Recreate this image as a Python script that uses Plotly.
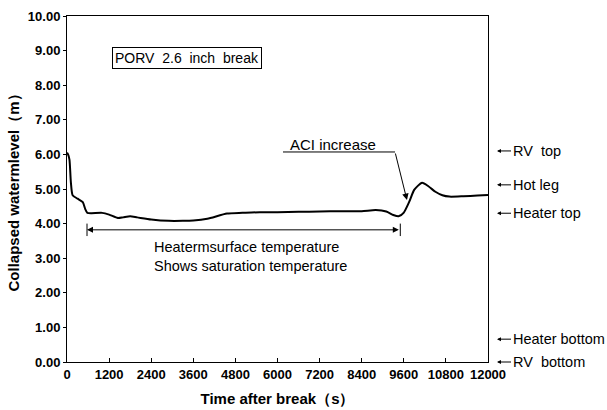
import plotly.graph_objects as go

# --- data ---
time_s = [0, 30, 70, 110, 160, 300, 450, 520, 580, 700, 1000, 1200, 1450, 1600, 1800, 2000,
          2400, 2900, 3300, 3600, 4000, 4560, 5000, 5500, 6000, 6600, 7200, 7800, 8400,
          8800, 9100, 9300, 9450, 9600, 9750, 9900, 10120, 10300, 10500, 10700, 10900,
          11300, 11700, 12000]
level_m = [6.05, 6.0, 5.85, 5.2, 4.82, 4.72, 4.62, 4.42, 4.31, 4.3, 4.31, 4.26, 4.16, 4.18,
           4.21, 4.18, 4.12, 4.08, 4.08, 4.09, 4.14, 4.29, 4.31, 4.33, 4.33, 4.34, 4.35,
           4.36, 4.36, 4.39, 4.35, 4.25, 4.21, 4.32, 4.62, 4.98, 5.18, 5.08, 4.92, 4.82,
           4.78, 4.79, 4.81, 4.83]

x_ticks = [0, 1200, 2400, 3600, 4800, 6000, 7200, 8400, 9600, 10800, 12000]
y_ticks = [0, 1, 2, 3, 4, 5, 6, 7, 8, 9, 10]

ref_labels = ["RV  top", "Hot leg", "Heater top", "Heater bottom", "RV  bottom"]
ref_levels = [6.1, 5.12, 4.3, 0.66, 0.0]

saturation_span = [570, 9500]
saturation_level = 3.82
aci_tip = [9690, 4.68]
aci_tail = [9350, 6.07]
aci_line_start = 6157

FONT = "Liberation Sans, Arial, sans-serif"

fig = go.Figure()
fig.add_trace(go.Scatter(x=time_s, y=level_m, mode="lines",
                         line=dict(color="black", width=2, shape="spline", smoothing=0.6),
                         showlegend=False, hoverinfo="skip"))

fig.update_layout(
    width=607, height=410,
    margin=dict(l=67, r=119, t=16, b=48),
    paper_bgcolor="white", plot_bgcolor="white",
    font=dict(family=FONT, color="black"),
    xaxis=dict(range=[0, 12000], tickvals=x_ticks, ticktext=[str(v) for v in x_ticks],
               automargin=False,
               showgrid=False, zeroline=False, showline=True, linecolor="black", linewidth=1,
               mirror=True, ticks="inside", ticklen=4, tickcolor="black",
               tickfont=dict(family=FONT, size=13, color="black", weight="bold"),
               title=dict(text="Time after break（s）", standoff=12,
                          font=dict(family=FONT, size=15, color="black", weight="bold"))),
    yaxis=dict(range=[0, 10], tickvals=y_ticks, ticktext=[f"{v:.2f}" for v in y_ticks],
               automargin=False,
               showgrid=False, zeroline=False, showline=True, linecolor="black", linewidth=1,
               mirror=True, ticks="outside", ticklen=3, tickcolor="black",
               tickfont=dict(family=FONT, size=13, color="black", weight="bold"),
               title=dict(text="Collapsed watermlevel（m）", standoff=4,
                          font=dict(family=FONT, size=15, color="black", weight="bold"))),
)

# Box title
fig.add_annotation(x=0.108, y=0.878, xref="paper", yref="paper", xanchor="left", yanchor="middle",
                   text="PORV  2.6  inch  break", showarrow=False,
                   font=dict(family=FONT, size=14, color="black"),
                   bordercolor="black", borderwidth=1, borderpad=2, bgcolor="white")

# Saturation span double arrow
fig.add_annotation(x=saturation_span[0], y=saturation_level, ax=saturation_span[1], ay=saturation_level,
                   xref="x", yref="y", axref="x", ayref="y", text="", showarrow=True,
                   arrowhead=2, arrowside="end+start", arrowsize=1.2, arrowwidth=1, arrowcolor="black")
for xs in saturation_span:
    fig.add_shape(type="line", x0=xs, x1=xs, y0=saturation_level - 0.18, y1=saturation_level + 0.18,
                  xref="x", yref="y", line=dict(color="black", width=1))
fig.add_annotation(x=2420, y=3.04, xref="x", yref="y", xanchor="left", yanchor="middle",
                   text="Heatermsurface temperature<br>Shows saturation temperature",
                   align="left", showarrow=False, font=dict(family=FONT, size=14.5, color="black"))

# ACI increase
fig.add_annotation(x=7580, y=6.3, xref="x", yref="y", text="ACI increase", showarrow=False,
                   font=dict(family=FONT, size=15, color="black"))
fig.add_shape(type="line", x0=aci_line_start, x1=aci_tail[0], y0=aci_tail[1], y1=aci_tail[1],
              xref="x", yref="y", line=dict(color="black", width=1))
fig.add_annotation(x=aci_tip[0], y=aci_tip[1], ax=aci_tail[0], ay=aci_tail[1],
                   xref="x", yref="y", axref="x", ayref="y", text="", showarrow=True,
                   arrowhead=2, arrowsize=1.3, arrowwidth=1, arrowcolor="black")

# Right side reference labels
for lab, lv in zip(ref_labels, ref_levels):
    fig.add_annotation(x=1.0214, y=lv, xref="paper", yref="y", text=lab,
                       xanchor="left", yanchor="middle", showarrow=True, ax=14, ay=0,
                       arrowhead=2, arrowsize=0.8, arrowwidth=1, arrowcolor="black",
                       font=dict(family=FONT, size=14.5, color="black"))

fig.write_html("out.html")
